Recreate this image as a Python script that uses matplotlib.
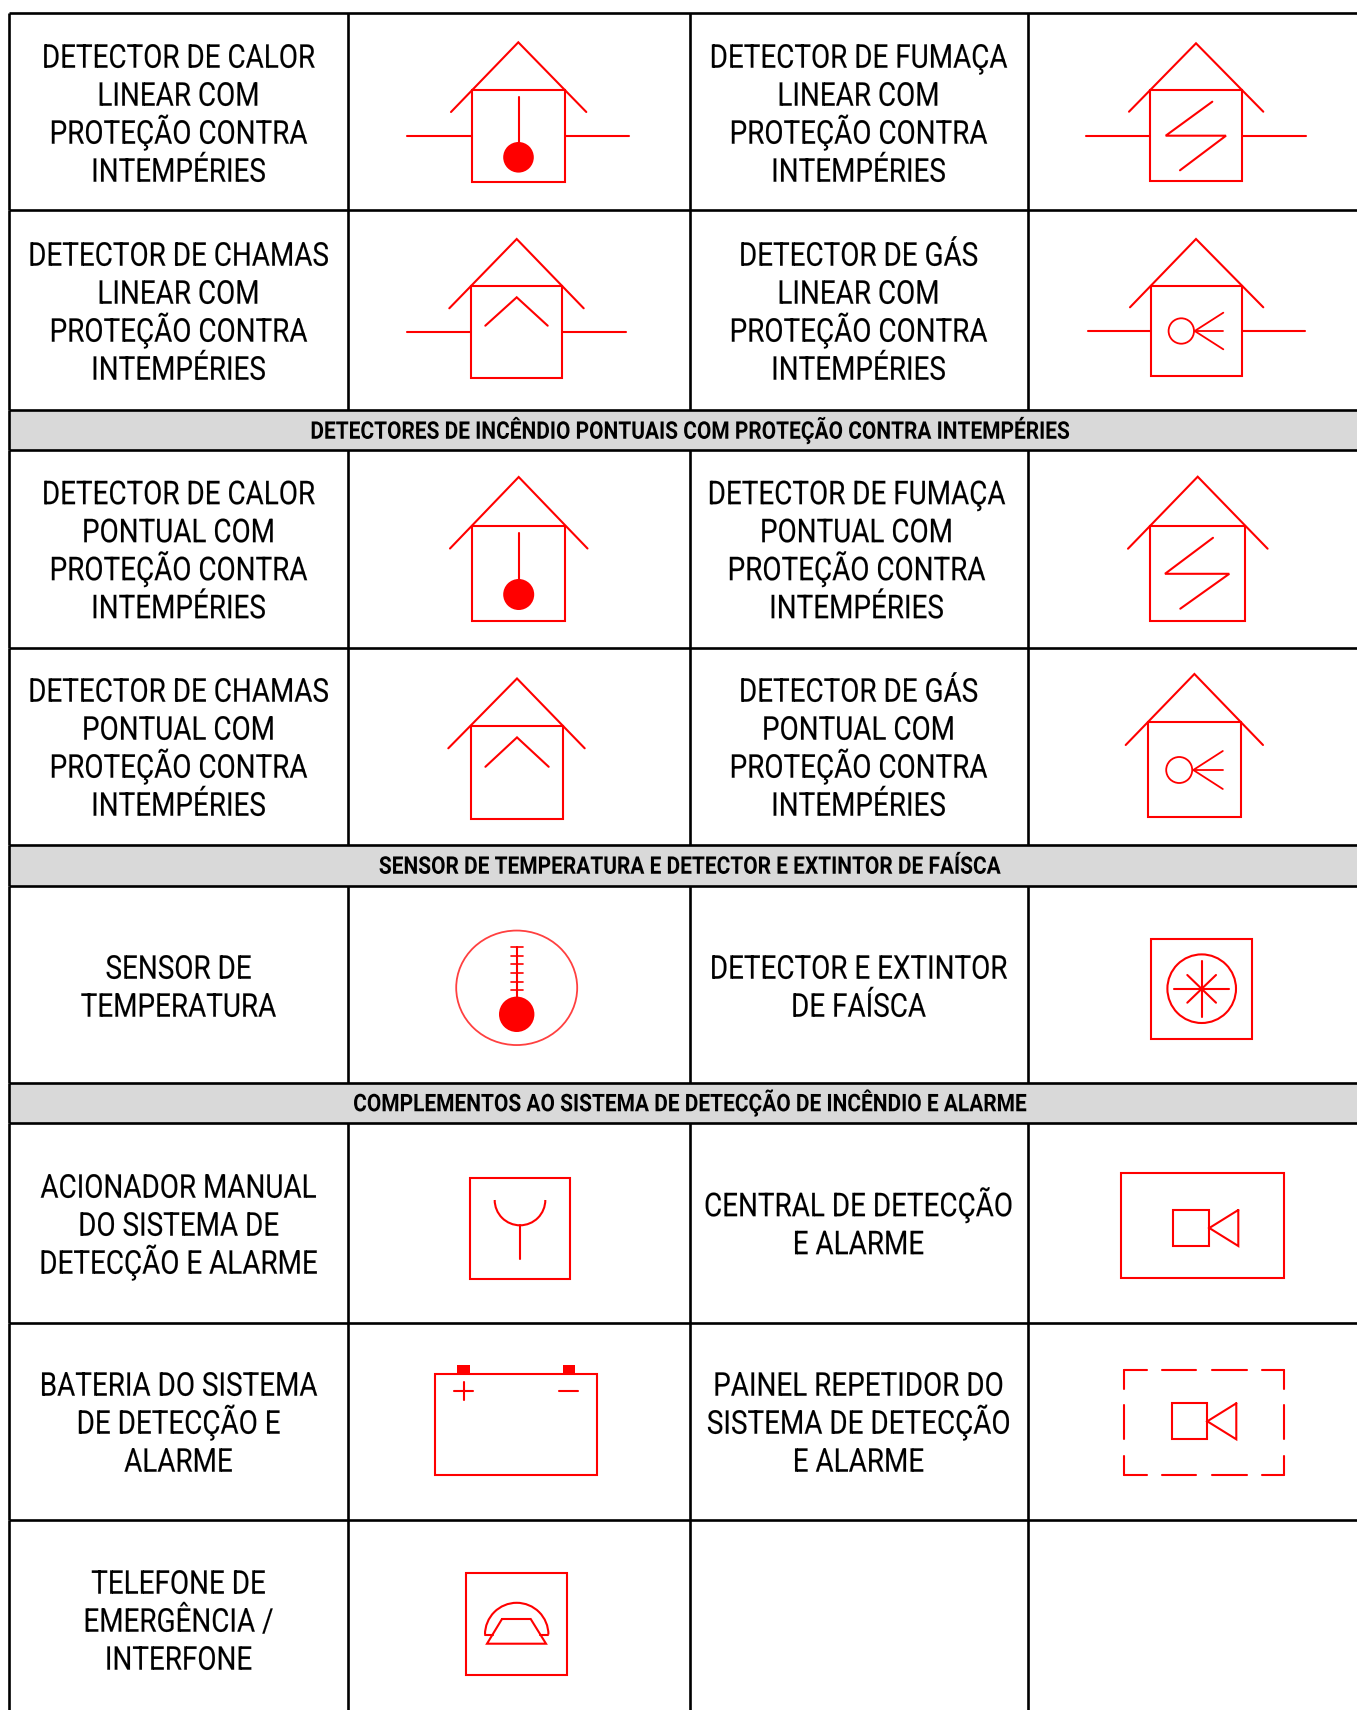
#!/usr/bin/env python
# -*- coding:utf-8 -*-
import numpy as np
from matplotlib import pyplot as plt
from matplotlib.patches import Circle, Ellipse, Rectangle, Arc
from matplotlib.patheffects import AbstractPathEffect
from matplotlib.transforms import Affine2D

plt.rcParams['font.family'] = ['Roboto', 'DejaVu Sans']

RED = '#ff0000'
W, H = 1357, 1710

col_x = [9, 348, 690, 1028]
row_y = [13, 210.5, 410, 450.5, 648, 845, 885.5, 1083, 1122.5, 1323, 1520]

band_titles = [
    'DETECTORES DE INCÊNDIO PONTUAIS COM PROTEÇÃO CONTRA INTEMPÉRIES',
    'SENSOR DE TEMPERATURA E DETECTOR E EXTINTOR DE FAÍSCA',
    'COMPLEMENTOS AO SISTEMA DE DETECÇÃO DE INCÊNDIO E ALARME',
]
band_rows = [2, 5, 7]

# texto, centro x, y do centro da primeira linha
cell_labels = [
    (['DETECTOR DE CALOR', 'LINEAR COM', 'PROTEÇÃO CONTRA', 'INTEMPÉRIES'], 178.5, 56),
    (['DETECTOR DE FUMAÇA', 'LINEAR COM', 'PROTEÇÃO CONTRA', 'INTEMPÉRIES'], 858.5, 56),
    (['DETECTOR DE CHAMAS', 'LINEAR COM', 'PROTEÇÃO CONTRA', 'INTEMPÉRIES'], 178.5, 254),
    (['DETECTOR DE GÁS', 'LINEAR COM', 'PROTEÇÃO CONTRA', 'INTEMPÉRIES'], 858.5, 254),
    (['DETECTOR DE CALOR', 'PONTUAL COM', 'PROTEÇÃO CONTRA', 'INTEMPÉRIES'], 178.5, 492.5),
    (['DETECTOR DE FUMAÇA', 'PONTUAL COM', 'PROTEÇÃO CONTRA', 'INTEMPÉRIES'], 856.5, 492.5),
    (['DETECTOR DE CHAMAS', 'PONTUAL COM', 'PROTEÇÃO CONTRA', 'INTEMPÉRIES'], 178.5, 690),
    (['DETECTOR DE GÁS', 'PONTUAL COM', 'PROTEÇÃO CONTRA', 'INTEMPÉRIES'], 858.5, 690),
    (['SENSOR DE', 'TEMPERATURA'], 178.5, 967),
    (['DETECTOR E EXTINTOR', 'DE FAÍSCA'], 858.5, 967),
    (['ACIONADOR MANUAL', 'DO SISTEMA DE', 'DETECÇÃO E ALARME'], 178.5, 1186),
    (['CENTRAL DE DETECÇÃO', 'E ALARME'], 858.5, 1204.5),
    (['BATERIA DO SISTEMA', 'DE DETECÇÃO E', 'ALARME'], 178.5, 1384),
    (['PAINEL REPETIDOR DO', 'SISTEMA DE DETECÇÃO', 'E ALARME'], 858.5, 1384),
    (['TELEFONE DE', 'EMERGÊNCIA /', 'INTERFONE'], 178.5, 1582),
]


class Squeeze(AbstractPathEffect):
    # a fonte condensada nao existe, entao aperta o texto na horizontal
    def __init__(self, cx, sx, stroke=0.0):
        super().__init__()
        self.cx, self.sx, self.stroke = cx, sx, stroke

    def draw_path(self, renderer, gc, tpath, affine, rgbFace=None):
        squeeze = Affine2D().translate(-self.cx, 0).scale(self.sx, 1).translate(self.cx, 0)
        gc.set_linewidth(self.stroke)
        renderer.draw_path(gc, tpath, affine + squeeze, rgbFace)


def line(ax, xs, ys, lw=1.5):
    ax.plot(xs, ys, color=RED, lw=lw, solid_capstyle='round', solid_joinstyle='miter')


def box(ax, l, r, t, b, lw=1.5):
    ax.add_patch(Rectangle((l, t), r - l, b - t, fill=False, edgecolor=RED, lw=lw))


def house(ax, apex, eave_l, eave_r, eave_y, l, r, t, b):
    line(ax, [eave_l, apex[0], eave_r], [eave_y, apex[1], eave_y])
    box(ax, l, r, t, b)


def wires(ax, x0, l, r, x1, y):
    line(ax, [x0, l], [y, y])
    line(ax, [r, x1], [y, y])


def bulb(ax, x, top, cy, rad):
    line(ax, [x, x], [top, cy])
    ax.add_patch(Circle((x, cy), rad, color=RED, lw=0))


def gas(ax, cx, y, rad, hub, tip, spread):
    ax.add_patch(Circle((cx, y), rad, fill=False, edgecolor=RED, lw=1.3))
    for dy in (-spread, 0, spread):
        line(ax, [hub, tip], [y, y + dy], lw=1.3)


def camera(ax, l, r, t, b, tip):
    box(ax, l, r, t, b)
    line(ax, [tip, r, tip, tip], [t, (t + b) / 2, b, t])


fig = plt.figure(figsize=(W / 100, H / 100), dpi=100)
ax = fig.add_axes([0, 0, 1, 1])
ax.set_xlim(0, W)
ax.set_ylim(H, 0)
ax.axis('off')

# grade
for i, title in zip(band_rows, band_titles):
    ax.add_patch(Rectangle((col_x[0], row_y[i]), W - col_x[0], row_y[i + 1] - row_y[i], color='#d9d9d9', lw=0))
    ax.text(689, (row_y[i] + row_y[i + 1]) / 2 + 8.5, title, ha='center', va='baseline', fontsize=17.5,
            fontweight='bold', color='black', path_effects=[Squeeze(689, 0.86)])
for y in row_y:
    ax.plot([col_x[0], W], [y, y], color='black', lw=1.9, solid_capstyle='butt')
for x in col_x:
    for i in range(len(row_y)):
        y1 = row_y[i + 1] if i + 1 < len(row_y) else H
        if i not in band_rows or x == col_x[0]:
            ax.plot([x, x], [row_y[i], y1], color='black', lw=1.9, solid_capstyle='butt')

# textos das celulas
for lines, cx, y0 in cell_labels:
    for k, s in enumerate(lines):
        ax.text(cx, y0 + 38 * k + 11.7, s, ha='center', va='baseline', fontsize=23.6, color='black',
                path_effects=[Squeeze(cx, 0.85, 0.1)])

# calor linear
house(ax, (518.3, 42.3), 451, 586.3, 112, 472.3, 564.7, 89.7, 182)
wires(ax, 407.3, 472.3, 564.7, 629, 135.7)
bulb(ax, 518.5, 96.7, 157.3, 15.3)

# fumaca linear
house(ax, (1196, 43.3), 1129, 1263.3, 111.7, 1150, 1241.7, 90, 181.3)
wires(ax, 1086, 1150, 1241.7, 1305.7, 135.7)
line(ax, [1212.3, 1165.7, 1226, 1180], [101.7, 135.7, 135.7, 170.3])

# chamas linear
house(ax, (516.7, 239), 449.3, 583.7, 308.3, 471, 562, 286, 378)
wires(ax, 406.7, 471, 562, 626, 332.3)
line(ax, [485.3, 516.7, 547.7], [325.7, 297.3, 325.7])

# gas linear
house(ax, (1196, 239), 1130, 1263.3, 307.3, 1150.7, 1241.7, 285.7, 376.3)
wires(ax, 1088, 1150.7, 1241.7, 1305, 331)
gas(ax, 1181.3, 331, 12.7, 1194.7, 1223.3, 18.3)

# calor pontual
house(ax, (518.7, 477), 450, 587.5, 548.5, 472, 565.2, 526, 620.7)
bulb(ax, 518.7, 533.4, 594.5, 15.5)

# fumaca pontual
house(ax, (1197.7, 476.7), 1128, 1267.6, 548.7, 1150.3, 1245.2, 525.8, 620.7)
line(ax, [1213, 1165, 1229.3, 1180.3], [537.8, 573.8, 573.8, 608.7])

# chamas pontual
house(ax, (517, 678.5), 448.3, 584.7, 748.3, 470.7, 562.9, 726.5, 819.2)
line(ax, [485.4, 517, 548.7], [766.8, 737.4, 766.8])

# gas pontual
house(ax, (1194.4, 674), 1125.7, 1263, 745, 1148, 1241.3, 722, 817)
gas(ax, 1179.2, 770, 13, 1193.3, 1222.8, 19)

# sensor de temperatura
ax.add_patch(Ellipse((516.7, 987.8), 121, 114.5, fill=False, edgecolor=RED, lw=1.3, alpha=0.75))
bulb(ax, 516.7, 946.7, 1014.3, 17.7)
for y in [947.3, 955.7, 964.3, 972.7, 981.7, 990]:
    line(ax, [510.7, 522.7], [y, y], lw=1.2)

# detector e extintor de faisca
box(ax, 1151.3, 1251.7, 939, 1038.7)
ax.add_patch(Circle((1201.7, 988.7), 34.3, fill=False, edgecolor=RED, lw=1.5))
line(ax, [1201.7, 1201.7], [961.3, 1016.7])
line(ax, [1174, 1229.3], [988.7, 988.7])
line(ax, [1187.3, 1216], [975, 1002.7])
line(ax, [1187.3, 1216], [1002.7, 975])

# acionador manual
box(ax, 470.3, 569.7, 1178.3, 1279.3)
ax.add_patch(Arc((520, 1200), 50.6, 50.6, theta1=0, theta2=180, edgecolor=RED, lw=1.5))
line(ax, [520, 520], [1225.3, 1259])

# central
box(ax, 1121.3, 1283.7, 1173, 1278.3)
camera(ax, 1172.7, 1209.3, 1210, 1246, 1238.3)

# bateria
box(ax, 435.3, 596.7, 1374, 1475)
ax.add_patch(Rectangle((457.3, 1365.3), 12.4, 8.7, color=RED, lw=0))
ax.add_patch(Rectangle((562.7, 1365.3), 12, 8.7, color=RED, lw=0))
line(ax, [454.4, 473], [1390.7, 1390.7])
line(ax, [463.7, 463.7], [1381.7, 1399.7])
line(ax, [559, 577.7], [1390.7, 1390.7])

# painel repetidor
for x0, x1 in [(1124.3, 1146.7), (1162.3, 1196.3), (1212, 1246.7), (1262.3, 1284.3)]:
    line(ax, [x0, x1], [1370.3, 1370.3])
    line(ax, [x0, x1], [1474.7, 1474.7])
for y0, y1 in [(1370.3, 1389.3), (1405.3, 1439.3), (1455.7, 1474.7)]:
    line(ax, [1124.3, 1124.3], [y0, y1])
    line(ax, [1284.3, 1284.3], [y0, y1])
camera(ax, 1172, 1207.3, 1403.3, 1439.3, 1236.3)

# telefone
box(ax, 466, 566.7, 1573.3, 1674.7)
ax.add_patch(Arc((516.7, 1634.5), 63.4, 63.4, theta1=180, theta2=360, edgecolor=RED, lw=1.5))
line(ax, [485, 492.7], [1635, 1635])
line(ax, [540, 548.3], [1635, 1635])
line(ax, [502, 530.7, 546, 487, 502], [1619, 1619, 1643.7, 1643.7, 1619])

plt.savefig('out.png', dpi=100)
